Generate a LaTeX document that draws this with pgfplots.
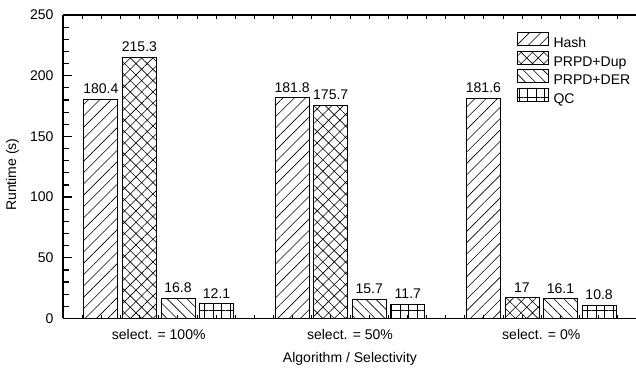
\documentclass[border=0pt]{standalone}
\usepackage{pgfplots}
\pgfplotsset{compat=1.18}
\usepackage{fontspec}
\setmainfont{Liberation Sans}
\usetikzlibrary{patterns.meta}
\begin{document}
\begin{tikzpicture}[font=\fontsize{14pt}{16pt}\selectfont]
\pgfplotsset{lg/.style={legend image code/.code={\draw[##1] (0pt,-1.5pt) rectangle (31pt,11.5pt);}}}
\begin{axis}[
  scale only axis, width=573pt, height=303pt,
  xmin=0.5, xmax=3.5, ymin=0, ymax=250,
  axis x line*=box, axis y line*=left,
  axis line style={line width=1.6pt},
  ybar=4.5pt, bar width=34pt,
  xtick={1,2,3},
  xticklabels={select. = 100\%, select. = 50\%, select. = 0\%},
  minor xtick={0.6,0.7,0.8,0.9,1.0,1.1,1.2,1.3,1.4,1.5,1.6,1.7,1.8,1.9,2.0,2.1,2.2,2.3,2.4,2.5,2.6,2.7,2.8,2.9,3.0,3.1,3.2,3.3,3.4},
  major x tick style={draw=none},
  minor x tick style={line width=0.8pt, dash pattern=on 3.5pt off 30pt},
  x tick label style={yshift=-7pt},
  ytick={0,50,100,150,200,250},
  minor y tick num=4,
  ytick pos=left,
  tick align=inside,
  major tick length=9pt, minor tick length=6pt,
  every tick/.style={black, line width=1.2pt},
  y tick label style={xshift=-6pt},
  /pgf/number format/assume math mode=true,
  xlabel={Algorithm / Selectivity},
  ylabel={Runtime (s)},
  every axis x label/.style={at={(axis description cs:0.5,0)}, anchor=center, yshift=-40pt},
  every axis y label/.style={at={(axis description cs:-0.0881,0.474)}, anchor=center, rotate=90},
  nodes near coords,
  nodes near coords style={inner sep=2pt, yshift=3pt, black},
  legend style={draw=none, fill=none, at={(rel axis cs:0.79,0.944)}, anchor=north west,
    inner sep=0pt, row sep=-1pt, column sep=4pt, cells={anchor=west},
    nodes={inner sep=1pt, text height=10pt, text depth=3pt}},
]
\addplot[lg, draw=black, line width=0.9pt, pattern={Lines[angle=45, distance=8pt, line width=0.6pt]}]
  coordinates {(1,180.4) (2,181.8) (3,181.6)};
\addplot[lg, draw=black, line width=0.9pt, pattern={Hatch[angle=45, distance=8pt, line width=0.6pt]}]
  coordinates {(1,215.3) (2,175.7) (3,17)};
\addplot[lg, draw=black, line width=0.9pt, pattern={Lines[angle=-45, distance=7pt, line width=0.6pt]}]
  coordinates {(1,16.8) (2,15.7) (3,16.1)};
\addplot[lg, draw=black, line width=0.9pt, pattern={Hatch[angle=0, distance=8.5pt, line width=0.6pt]}]
  coordinates {(1,12.1) (2,11.7) (3,10.8)};
\legend{Hash, PRPD+Dup, PRPD+DER, QC}
\coordinate (ll) at (rel axis cs:0,0);
\end{axis}
\pgfresetboundingbox
\path (ll) ++(-63pt,-51pt) rectangle ++(635.1pt,369pt);
\end{tikzpicture}
\end{document}
